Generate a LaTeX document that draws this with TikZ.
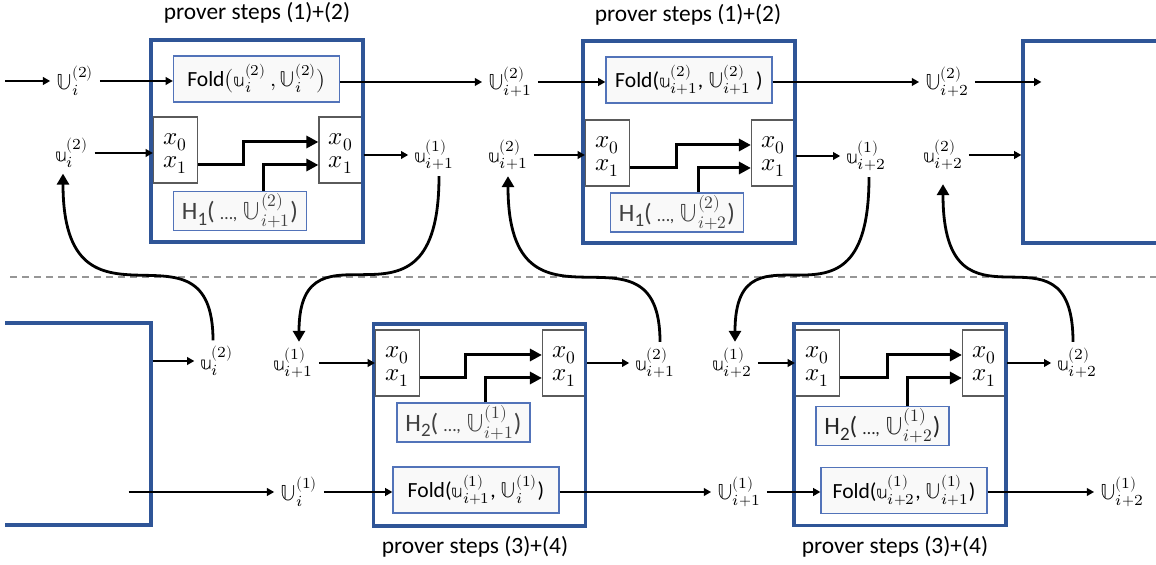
\documentclass[tikz,border=0pt]{standalone}
\usepackage{fontspec}
\usepackage{unicode-math}
\setmainfont{Carlito}
\setmathfont{Latin Modern Math}
\usetikzlibrary{arrows.meta, positioning, calc}

\definecolor{boxblue}{RGB}{47,85,151}
\definecolor{lineblue}{RGB}{82,115,185}
\definecolor{cellgray}{RGB}{90,90,90}
\definecolor{hgray}{RGB}{64,64,64}
\definecolor{sepgray}{RGB}{150,150,150}

\newcommand{\bu}{\mathbb{u}}
\newcommand{\bU}{\mathbb{U}}
\newcommand{\Hsub}[1]{H\raisebox{-0.45ex}{\fontsize{9.5}{10}\selectfont #1}}
\newcommand{\argdots}{{\fontsize{9}{10}\selectfont …,}}

\begin{document}
\begin{tikzpicture}[x=0.5pt, y=-0.5pt,
    blk/.style={draw=boxblue, line width=1.6pt, minimum width=106pt, minimum height=101pt},
    fbox/.style={draw=lineblue, fill=gray!5, line width=0.6pt, minimum width=83pt, minimum height=23pt, inner sep=1pt, font=\fontsize{10.8}{12}\selectfont},
    hbox/.style={draw=lineblue, fill=gray!5, line width=0.6pt, minimum width=66.5pt, minimum height=19.5pt, inner sep=1pt, text=hgray, font=\fontsize{12.5}{14}\selectfont},
    xcell/.style={draw=cellgray, line width=0.6pt, minimum width=22pt, minimum height=33pt},
    xtxt/.style={inner sep=0pt, font=\fontsize{12.5}{15}\selectfont},
    lbl/.style={inner sep=1pt, outer sep=2pt, font=\fontsize{11}{13}\selectfont},
    ttl/.style={font=\fontsize{11.7}{14}\selectfont},
    arr/.style={-{Triangle[length=3.6pt, width=3.8pt]}, line width=1pt},
    thk/.style={-{Triangle[length=6pt, width=6pt]}, line width=1.5pt},
    hop/.style={-{Triangle[length=5.5pt, width=6pt]}, line width=1.4pt}
  ]
  \path[use as bounding box] (0,0) rectangle (1156,565);
  \clip (5,0) rectangle (1156,565);

  % separator between the two halves
  \draw[sepgray, line width=1pt, dash pattern=on 3.5pt off 2.5pt] (10,277) -- (1156,277);

  % steps (1)+(2), round i
  \node[ttl] (t1) at (257,13) {prover steps (1)+(2)};
  \node[fbox] (fold1) at (256.5,79) {Fold$\bigl(\bu_i^{(2)}\,,\bU_i^{(2)}\bigr)$};
  \node[xcell] (xa1) at (175.5,150) {};
  \node[xcell] (xb1) at (341,150) {};
  \node[xtxt] (x0a1) at (175.5,142) {$x_0$};
  \node[xtxt] (x1a1) at (175.5,165) {$x_1$};
  \node[xtxt] (x0b1) at (341,142) {$x_0$};
  \node[xtxt] (x1b1) at (341,165) {$x_1$};
  \node[hbox] (hb1) at (240,211) {\Hsub{1}( \argdots{} $\bU_{i+1}^{(2)}$)};
  \node[blk] (b1) at (257,141) {};

  % steps (1)+(2), round i+1
  \node[ttl] (t2) at (688,15) {prover steps (1)+(2)};
  \node[fbox] (fold2) at (689,80) {Fold($\bu_{i+1}^{(2)}$, $\bU_{i+1}^{(2)}$ )};
  \node[xcell] (xa2) at (607.5,153) {};
  \node[xcell] (xb2) at (773.5,153) {};
  \node[xtxt] (x0a2) at (607.5,145) {$x_0$};
  \node[xtxt] (x1a2) at (607.5,168) {$x_1$};
  \node[xtxt] (x0b2) at (773.5,145) {$x_0$};
  \node[xtxt] (x1b2) at (773.5,168) {$x_1$};
  \node[hbox] (hb2) at (677,212.5) {\Hsub{1}( \argdots{} $\bU_{i+2}^{(2)}$)};
  \node[blk] (b2) at (689,142) {};

  \node[blk] (b3) at (1129,142) {};

  % steps (3)+(4)
  \node[blk] (b4) at (45,424) {};

  \node[ttl] (t3) at (475,547) {prover steps (3)+(4)};
  \node[xcell] (xa5) at (397.5,363) {};
  \node[xcell] (xb5) at (564.5,363) {};
  \node[xtxt] (x0a5) at (397.5,355) {$x_0$};
  \node[xtxt] (x1a5) at (397.5,378) {$x_1$};
  \node[xtxt] (x0b5) at (564.5,355) {$x_0$};
  \node[xtxt] (x1b5) at (564.5,378) {$x_1$};
  \node[hbox] (hb5) at (463.5,422.5) {\Hsub{2}( \argdots{} $\bU_{i+1}^{(1)}$)};
  \node[fbox] (fold5) at (476,490) {Fold($\bu_{i+1}^{(1)}$, $\bU_{i}^{(1)}$)};
  \node[blk] (b5) at (479.5,425) {};

  \node[ttl] (t4) at (895,547) {prover steps (3)+(4)};
  \node[xcell] (xa6) at (817.5,363) {};
  \node[xcell] (xb6) at (984.5,363) {};
  \node[xtxt] (x0a6) at (817.5,355) {$x_0$};
  \node[xtxt] (x1a6) at (817.5,378) {$x_1$};
  \node[xtxt] (x0b6) at (984.5,355) {$x_0$};
  \node[xtxt] (x1b6) at (984.5,378) {$x_1$};
  \node[hbox, text=black!85] (hb6) at (882.5,426) {\Hsub{2}( \argdots{} $\bU_{i+2}^{(1)}$)};
  \node[fbox] (fold6) at (904,490.5) {Fold($\bu_{i+2}^{(1)}$, $\bU_{i+1}^{(1)}$)};
  \node[blk] (b6) at (900,424.5) {};

  % values passed between the steps
  \node[lbl] (U2a) at (75,81) {$\bU_i^{(2)}$};
  \node[lbl] (u2a) at (72,153) {$\bu_i^{(2)}$};
  \node[lbl] (u1b) at (434,155) {$\bu_{i+1}^{(1)}$};
  \node[lbl] (U2b) at (510,82) {$\bU_{i+1}^{(2)}$};
  \node[lbl] (u2b) at (508,155) {$\bu_{i+1}^{(2)}$};
  \node[lbl] (u1c) at (866,156) {$\bu_{i+2}^{(1)}$};
  \node[lbl] (U2c) at (947,82) {$\bU_{i+2}^{(2)}$};
  \node[lbl] (u2c) at (943,155) {$\bu_{i+2}^{(2)}$};

  \node[lbl] (v2a) at (217,361) {$\bu_i^{(2)}$};
  \node[lbl] (v1b) at (293,363) {$\bu_{i+1}^{(1)}$};
  \node[lbl] (v2b) at (655,363) {$\bu_{i+1}^{(2)}$};
  \node[lbl] (v1c) at (732,363) {$\bu_{i+2}^{(1)}$};
  \node[lbl] (v2c) at (1077,363) {$\bu_{i+2}^{(2)}$};
  \node[lbl] (U1a) at (299,492) {$\bU_i^{(1)}$};
  \node[lbl] (U1b) at (739,492) {$\bU_{i+1}^{(1)}$};
  \node[lbl] (U1c) at (1122,492) {$\bU_{i+2}^{(1)}$};

  \coordinate (inU) at (5,81);
  \coordinate (b3in) at ([xshift=10pt]b3.west |- U2c);
  \coordinate (b4out) at ([xshift=-12pt]b4.east |- U1a);

  % top row
  \draw[arr] (inU) -- (U2a);
  \draw[arr] (U2a) -- (U2a -| fold1.west);
  \draw[arr] (fold1.east |- U2b) -- (U2b);
  \draw[arr] (U2b) -- (U2b -| fold2.west);
  \draw[arr] (fold2.east |- U2c) -- (U2c);
  \draw[arr] (U2c) -- (b3in);
  \draw[arr] (u2a) -- (u2a -| xa1.west);
  \draw[arr] (xb1.east |- u1b) -- (u1b);
  \draw[arr] (u2b) -- (u2b -| xa2.west);
  \draw[arr] (xb2.east |- u1c) -- (u1c);
  \draw[arr] (u2c) -- (u2c -| b3.west);

  % bottom row
  \draw[arr] (b4.east |- v2a) -- (v2a);
  \draw[arr] (v1b) -- (v1b -| xa5.west);
  \draw[arr] (xb5.east |- v2b) -- (v2b);
  \draw[arr] (v1c) -- (v1c -| xa6.west);
  \draw[arr] (xb6.east |- v2c) -- (v2c);
  \draw[arr] (b4out) -- (U1a);
  \draw[arr] (U1a) -- (U1a -| fold5.west);
  \draw[arr] (fold5.east |- U1b) -- (U1b);
  \draw[arr] (U1b) -- (U1b -| fold6.west);
  \draw[arr] (fold6.east |- U1c) -- (U1c);

  % x_1 -> x_0 and H -> x_1 inside each step
  \draw[thk] (xa1.east |- x1a1) -- ++(45,0) |- (xb1.west |- x0b1);
  \draw[thk] ($(hb1.north)+(23,0)$) |- (xb1.west |- x1b1);
  \draw[thk] (xa2.east |- x1a2) -- ++(46,0) |- (xb2.west |- x0b2);
  \draw[thk] ($(hb2.north)+(21,0)$) |- (xb2.west |- x1b2);
  \draw[thk] (xa5.east |- x1a5) -- ++(45,0) |- (xb5.west |- x0b5);
  \draw[thk] ($(hb5.north)+(22,0)$) |- (xb5.west |- x1b5);
  \draw[thk] (xa6.east |- x1a6) -- ++(47,0) |- (xb6.west |- x0b6);
  \draw[thk] ($(hb6.north)+(25,0)$) |- (xb6.west |- x1b6);

  % hand-over across the two halves
  \draw[hop] ([xshift=-2pt]v2a.north) .. controls +(0,-135) and +(0,180) .. ([xshift=-4.5pt]u2a.south);
  \draw[hop] ([xshift=2.5pt]u1b.south) .. controls +(0,180) and +(0,-135) .. ([xshift=3pt]v1b.north);
  \draw[hop] ([xshift=2.5pt]v2b.north) .. controls +(0,-135) and +(0,180) .. (u2b.south);
  \draw[hop] ([xshift=1.5pt]u1c.south) .. controls +(0,180) and +(0,-135) .. ([xshift=1.5pt]v1c.north);
  \draw[hop] ([xshift=-2pt]v2c.north) .. controls +(0,-133) and +(0,167) .. ([yshift=-4pt]u2c.south);
\end{tikzpicture}
\end{document}
